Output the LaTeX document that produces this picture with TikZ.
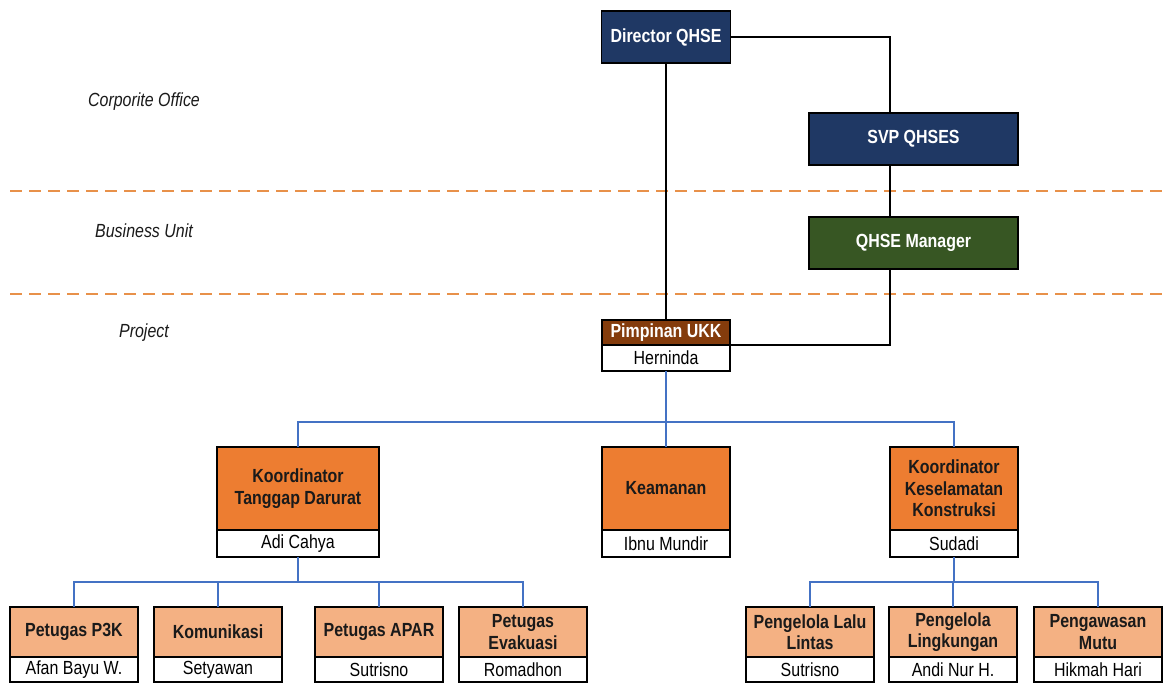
\documentclass[tikz,border=0pt]{standalone}
\usepackage{fontspec}
\setmainfont{Liberation Sans}[FakeStretch=0.84]
\definecolor{navy}{HTML}{1F3864}
\definecolor{leaf}{HTML}{375623}
\definecolor{rust}{HTML}{843C0C}
\definecolor{amber}{HTML}{ED7D31}
\definecolor{peach}{HTML}{F4B183}
\definecolor{linkblue}{HTML}{4472C4}
\definecolor{zoneline}{HTML}{E8914A}
\definecolor{ink}{HTML}{1A1A1A}
\tikzset{
  box/.style={draw=black, line width=1.8pt, inner sep=0pt, outer sep=0pt,
    align=center, font=\bfseries\fontsize{19}{21.5}\selectfont},
  darkbox/.style={box, text=white, minimum height=52pt},
  namebox/.style={draw=black, line width=1.8pt, fill=white, inner sep=0pt,
    outer sep=0pt, align=center, text=black, font=\fontsize{19}{21.5}\selectfont},
  midbox/.style={box, fill=amber, text=ink, minimum width=#1, minimum height=83pt},
  lowbox/.style={box, fill=peach, text=ink, minimum width=128pt, minimum height=50pt},
  lowname/.style={namebox, minimum width=128pt, minimum height=25pt},
  blk/.style={draw=black, line width=1.8pt},
  blu/.style={draw=linkblue, line width=1.8pt},
  zone/.style={draw=zoneline, line width=2.8pt, dash pattern=on 12pt off 7pt},
  lvl/.style={font=\itshape\fontsize{19}{21.5}\selectfont, text=ink}
}
\begin{document}
\begin{tikzpicture}[x=1pt,y=-1pt]
\useasboundingbox[fill=white] (0,0) rectangle (1166,682);

% zone separators and zone names
\coordinate (zA0) at (10,191);  \coordinate (zA1) at (1162,191);
\coordinate (zB0) at (10,294);  \coordinate (zB1) at (1162,294);
\draw[zone] (zA0) -- (zA1);
\draw[zone] (zB0) -- (zB1);
\node[lvl] (corp) at (144,102) {Corporite Office};
\node[lvl] (bu)   at (144,231) {Business Unit};
\node[lvl] (proj) at (144,333) {Project};

% upper management
\node[darkbox, fill=navy, minimum width=129pt] (dir) at (666,37) {Director QHSE};
\node[darkbox, fill=navy, minimum width=209pt] (svp) at (913.5,139) {SVP QHSES};
\node[darkbox, fill=leaf, minimum width=209pt] (mgr) at (913.5,243) {QHSE Manager};

% project leader
\node[box, fill=rust, text=white, minimum width=128pt, minimum height=25pt] (pimh) at (666,332.5) {Pimpinan UKK};
\node[namebox, minimum width=128pt, minimum height=26pt] (pimn) at (666,358) {Herninda};

% reporting lines
\coordinate (trunk) at (890,0);
\draw[blk] (dir.east) -| (svp.north -| trunk);
\draw[blk] (svp.south -| trunk) -- (mgr.north -| trunk);
\draw[blk] (mgr.south -| trunk) |- (pimh.south east);
\draw[blk] (dir.south) -- (pimh.north);

% coordinators
\node[midbox=162pt] (ktd) at (298,488.5) {Koordinator\\Tanggap Darurat};
\node[namebox, minimum width=162pt, minimum height=27pt] (ktdn) at (298,543.5) {Adi Cahya};
\node[midbox=128pt] (kam) at (666,488.5) {Keamanan};
\node[namebox, minimum width=128pt, minimum height=27pt] (kamn) at (666,543.5) {Ibnu Mundir};
\node[midbox=128pt] (kkk) at (954,488.5) {Koordinator\\Keselamatan\\Konstruksi};
\node[namebox, minimum width=128pt, minimum height=27pt] (kkkn) at (954,543.5) {Sudadi};

\coordinate (bus1) at (0,422);
\foreach \c in {ktd,kam,kkk}
  \draw[blu] (pimn.south) -- (pimn.south |- bus1) -| (\c.north);

% field officers
\node[lowbox] (p3k) at (74,632) {Petugas P3K};
\node[lowname] (p3kn) at (74,669.5) {Afan Bayu W.};
\node[lowbox] (kom) at (218,632) {Komunikasi};
\node[lowname] (komn) at (218,669.5) {Setyawan};
\node[lowbox] (apar) at (379,632) {Petugas APAR};
\node[lowname] (aparn) at (379,669.5) {Sutrisno};
\node[lowbox] (evak) at (523,632) {Petugas\\Evakuasi};
\node[lowname] (evakn) at (523,669.5) {Romadhon};

\node[lowbox] (lalu) at (810,632) {Pengelola Lalu\\Lintas};
\node[lowname] (lalun) at (810,669.5) {Sutrisno};
\node[lowbox] (ling) at (953,632) {Pengelola\\Lingkungan};
\node[lowname] (lingn) at (953,669.5) {Andi Nur H.};
\node[lowbox] (mutu) at (1098,632) {Pengawasan\\Mutu};
\node[lowname] (mutun) at (1098,669.5) {Hikmah Hari};

\coordinate (bus2) at (0,582);
\foreach \c in {p3k,kom,apar,evak}
  \draw[blu] (ktdn.south) -- (ktdn.south |- bus2) -| (\c.north);
\foreach \c in {lalu,ling,mutu}
  \draw[blu] (kkkn.south) -- (kkkn.south |- bus2) -| (\c.north);
\end{tikzpicture}
\end{document}
